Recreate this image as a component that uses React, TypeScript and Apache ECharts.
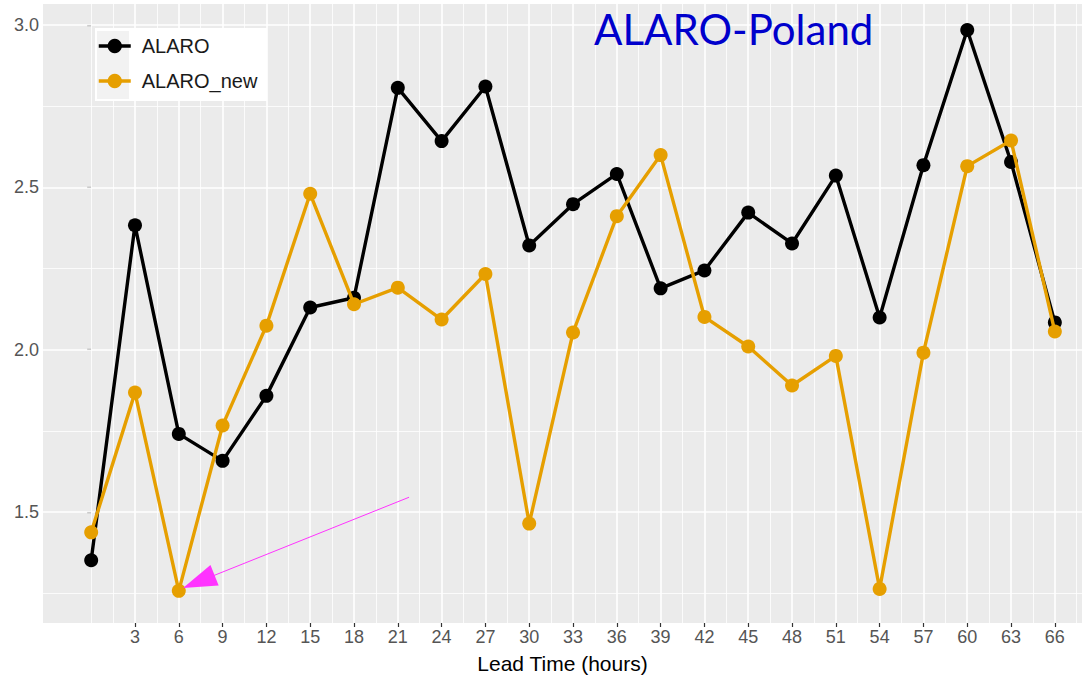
import React, { useEffect, useRef } from "react";
import * as echarts from "echarts";

const X_HOURS = [0, 3, 6, 9, 12, 15, 18, 21, 24, 27, 30, 33, 36, 39, 42, 45, 48, 51, 54, 57, 60, 63, 66];
const ALARO = [1.352, 2.383, 1.741, 1.658, 1.858, 2.13, 2.16, 2.806, 2.642, 2.81, 2.321, 2.448, 2.541, 2.189, 2.244, 2.422, 2.327, 2.536, 2.099, 2.568, 2.984, 2.578, 2.084];
const ALARO_NEW = [1.438, 1.868, 1.258, 1.767, 2.074, 2.48, 2.14, 2.191, 2.093, 2.233, 1.465, 2.053, 2.411, 2.599, 2.101, 2.01, 1.89, 1.981, 1.264, 1.991, 2.565, 2.644, 2.056];

const X_TICKS = [3, 6, 9, 12, 15, 18, 21, 24, 27, 30, 33, 36, 39, 42, 45, 48, 51, 54, 57, 60, 63, 66];
const X_MINOR = [0, 1.5, 4.5, 7.5, 10.5, 13.5, 16.5, 19.5, 22.5, 25.5, 28.5, 31.5, 34.5, 37.5, 40.5, 43.5, 46.5, 49.5, 52.5, 55.5, 58.5, 61.5, 64.5, 67.5];
const Y_TICKS = [1.5, 2.0, 2.5, 3.0];
const Y_MINOR = [1.25, 1.75, 2.25, 2.75];

const X_RANGE = [-3.3, 67.86];
const Y_RANGE = [1.159, 3.064];

const ARROW_FROM = [21.77, 1.546];
const ARROW_TO = [7.37, 1.2865];

const FONT = "'Liberation Sans', Arial, sans-serif";

export default function App() {
  const ref = useRef<HTMLDivElement>(null);
  useEffect(() => {
    if (!ref.current) return;
    const chart = echarts.init(ref.current, null, { renderer: "svg" });
    const pair = (xs: number[], ys: number[]) => xs.map((x, i) => [x, ys[i]]);
    const gridLines = [
      ...X_MINOR.map((v) => ({ xAxis: v, lineStyle: { width: 0.8 } })),
      ...Y_MINOR.map((v) => ({ yAxis: v, lineStyle: { width: 0.8 } })),
      ...X_TICKS.map((v) => ({ xAxis: v, lineStyle: { width: 1.6 } })),
      ...Y_TICKS.map((v) => ({ yAxis: v, lineStyle: { width: 1.6 } })),
    ];
    chart.setOption({
      animation: false,
      backgroundColor: "#ffffff",
      title: {
        text: "ALARO-Poland",
        left: 589,
        top: 3,
        textStyle: { fontFamily: "Lato, sans-serif", fontSize: 42, fontWeight: "normal", color: "#0000cc" },
      },
      grid: {
        left: 43,
        top: 4,
        right: 0,
        bottom: 54,
        show: true,
        backgroundColor: "#ebebeb",
        borderWidth: 0,
      },
      graphic: [
        { type: "rect", z: 3, shape: { x: 95, y: 28, width: 172, height: 73 }, style: { fill: "#ffffff" } },
        { type: "rect", z: 3, shape: { x: 97, y: 31, width: 32, height: 68 }, style: { fill: "#f2f2f2" } },
      ],
      legend: {
        orient: "vertical",
        left: 95,
        top: 28,
        padding: [8, 8, 5, 2],
        itemWidth: 32,
        itemHeight: 18,
        itemGap: 15,
        lineStyle: { width: 3.5 },
        textStyle: { fontFamily: FONT, fontSize: 20, color: "#1a1a1a", padding: [0, 0, 0, 6] },
        data: ["ALARO", "ALARO_new"],
      },
      xAxis: {
        type: "value",
        min: X_RANGE[0],
        max: X_RANGE[1],
        name: "Lead Time (hours)",
        nameLocation: "middle",
        nameGap: 30,
        nameTextStyle: { fontFamily: FONT, fontSize: 21, color: "#000000" },
        axisLine: { show: false },
        splitLine: { show: false },
        axisTick: { show: true, length: 4, customValues: X_TICKS, lineStyle: { color: "#333333", width: 1.2 } },
        axisLabel: { customValues: X_TICKS, fontFamily: FONT, fontSize: 18, color: "#555555", margin: 5 },
      },
      yAxis: {
        type: "value",
        min: Y_RANGE[0],
        max: Y_RANGE[1],
        axisLine: { show: false },
        splitLine: { show: false },
        axisTick: { show: true, length: 4, customValues: Y_TICKS, lineStyle: { color: "#333333", width: 1.2 } },
        axisLabel: {
          customValues: Y_TICKS,
          fontFamily: FONT,
          fontSize: 18,
          color: "#555555",
          margin: 4,
          formatter: (v: number) => v.toFixed(1),
        },
      },
      series: [
        {
          name: "ALARO",
          type: "line",
          data: pair(X_HOURS, ALARO),
          symbol: "circle",
          symbolSize: 14,
          itemStyle: { color: "#000000" },
          lineStyle: { color: "#000000", width: 3.4 },
          z: 2,
          markLine: {
            silent: true,
            z: 1,
            symbol: ["none", "none"],
            label: { show: false },
            lineStyle: { color: "#ffffff", type: "solid" },
            emphasis: { disabled: true },
            data: gridLines,
          },
        },
        {
          name: "ALARO_new",
          type: "line",
          data: pair(X_HOURS, ALARO_NEW),
          symbol: "circle",
          symbolSize: 14,
          itemStyle: { color: "#E69F00" },
          lineStyle: { color: "#E69F00", width: 3.4 },
          z: 3,
          markLine: {
            silent: true,
            z: 6,
            symbol: ["none", "triangle"],
            symbolSize: [22, 34],
            label: { show: false },
            lineStyle: { color: "#ff33ff", type: "solid", width: 1 },
            itemStyle: { color: "#ff33ff" },
            emphasis: { disabled: true },
            data: [[{ coord: ARROW_FROM }, { coord: ARROW_TO }]],
          },
        },
      ],
    });
    return () => chart.dispose();
  }, []);
  return <div ref={ref} style={{ position: "absolute", left: 0, top: 0, width: 1082, height: 679 }} />;
}
